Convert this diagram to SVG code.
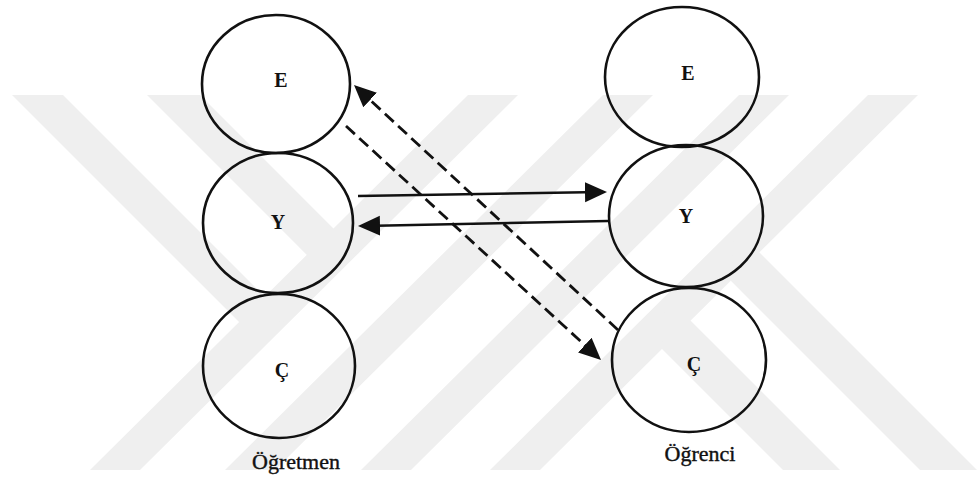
<svg xmlns="http://www.w3.org/2000/svg" width="980" height="478" viewBox="0 0 980 478">
  <style>
    .wm { fill: #efefef; stroke: none; }
    .state { fill: none; stroke: #111; stroke-width: 2.6; }
    .lbl { font-family: "Liberation Serif", "Times New Roman", serif; font-weight: bold; font-size: 20px; fill: #111; text-anchor: middle; }
    .cap { font-family: "Liberation Serif", "Times New Roman", serif; font-size: 22px; fill: #111; text-anchor: middle; stroke: #111; stroke-width: 0.4; }
    .solid { fill: none; stroke: #111; stroke-width: 2.6; }
    .dash { fill: none; stroke: #111; stroke-width: 2.8; stroke-dasharray: 12 6; }
  </style>
  <defs>
    <marker id="ah" markerUnits="userSpaceOnUse" markerWidth="23" markerHeight="22" refX="16" refY="11" orient="auto">
      <path d="M0,1 L22,11 L0,21 z" fill="#111"/>
    </marker>
  </defs>
  <rect x="0" y="0" width="980" height="478" fill="#ffffff"/>
  <g id="watermark">
    <polygon class="wm" points="90,470 140,470 518,95 468,95"/>
    <polygon class="wm" points="225,470 275,470 653,95 603,95"/>
    <polygon class="wm" points="361,470 411,470 789,95 739,95"/>
    <polygon class="wm" points="490,470 540,470 918,95 868,95"/>
    <polygon class="wm" points="12,95 63,95 289.6,321.6 239.1,322.1"/>
    <polygon class="wm" points="147,95 200,95 358.4,253.4 306.9,254.9"/>
    <polygon class="wm" points="783,470 840,470 665.7,295.7 662,349"/>
    <polygon class="wm" points="920,470 977,470 734.5,227.5 730.8,280.8"/>
  </g>
  <g id="ogretmen-E">
    <ellipse class="state" cx="276" cy="84" rx="74" ry="69"/>
    <text class="lbl" x="281" y="87">E</text>
  </g>
  <g id="ogretmen-Y">
    <ellipse class="state" cx="278" cy="223" rx="75" ry="70"/>
    <text class="lbl" x="278" y="229">Y</text>
  </g>
  <g id="ogretmen-C">
    <ellipse class="state" cx="279" cy="366" rx="76" ry="72"/>
    <text class="lbl" x="282" y="377">Ç</text>
  </g>
  <g id="ogretmen-label">
    <text class="cap" x="296" y="469">Öğretmen</text>
  </g>
  <g id="ogrenci-E">
    <ellipse class="state" cx="682" cy="77" rx="77" ry="70"/>
    <text class="lbl" x="688" y="80">E</text>
  </g>
  <g id="ogrenci-Y">
    <ellipse class="state" cx="686" cy="216" rx="77" ry="71"/>
    <text class="lbl" x="686" y="223">Y</text>
  </g>
  <g id="ogrenci-C">
    <ellipse class="state" cx="689" cy="360" rx="77" ry="72"/>
    <text class="lbl" x="694" y="371">Ç</text>
  </g>
  <g id="ogrenci-label">
    <text class="cap" x="700" y="461">Öğrenci</text>
  </g>
  <g id="connectors">
    <line class="solid" x1="358" y1="196" x2="601" y2="192" marker-end="url(#ah)"/>
    <line class="solid" x1="608" y1="221" x2="364" y2="226" marker-end="url(#ah)"/>
    <line class="dash" x1="618" y1="330" x2="358.4" y2="89.1" marker-end="url(#ah)"/>
    <line class="dash" x1="346" y1="126" x2="596.6" y2="355.9" marker-end="url(#ah)"/>
  </g>
</svg>
